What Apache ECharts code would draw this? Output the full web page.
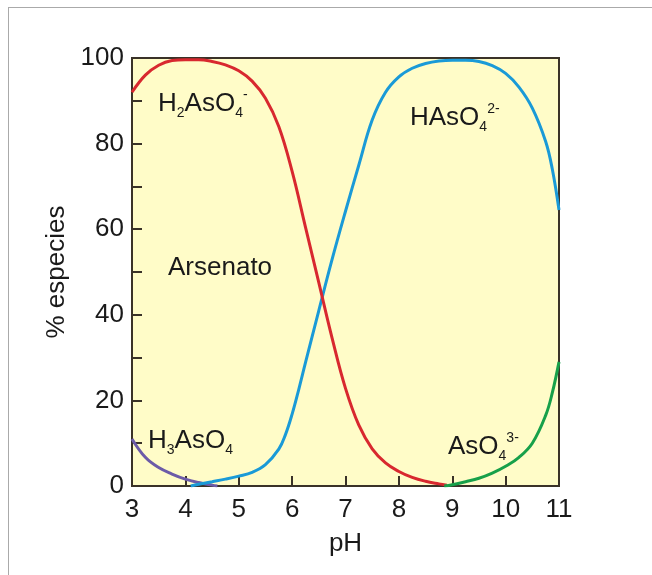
<!DOCTYPE html>
<html>
<head>
<meta charset="utf-8">
<script src="https://cdn.jsdelivr.net/npm/echarts@6/dist/echarts.min.js"></script>
<style>
  html, body { margin: 0; padding: 0; background: #fff; }
  #frame { position: absolute; left: 8px; top: 7px; right: 0; bottom: 0;
           border-top: 1px solid #aaa; border-left: 1px solid #aaa; }
  #chart { position: absolute; left: 0; top: 0; width: 652px; height: 575px; }
</style>
</head>
<body>
<div id="frame"></div>
<div id="chart"></div>
<script>
// 坐标轴刻度
const X_TICKS = [3, 4, 5, 6, 7, 8, 9, 10, 11]
const Y_TICKS = [0, 20, 40, 60, 80, 100]

// H3AsO4（紫）
const h3PH  = [3.0, 3.25, 3.5, 3.75, 4.0, 4.25, 4.5, 4.6]
const h3Pct = [11, 6.7, 4.3, 2.8, 1.6, 0.8, 0.2, 0]

// H2AsO4-（红）
const h2PH  = [3.0, 3.25, 3.5, 3.75, 4.0, 4.25, 4.5, 4.75, 5.0, 5.25, 5.5, 5.75, 6.0, 6.25, 6.5, 6.75, 7.0, 7.25, 7.5, 7.75, 8.0, 8.25, 8.5, 8.75, 8.9]
const h2Pct = [92, 96, 98.3, 99.4, 99.6, 99.6, 99.2, 98.4, 97, 94.6, 90.6, 84, 73.5, 60.5, 47.5, 34.5, 22.8, 14.2, 8.7, 5.4, 3.4, 2, 1.1, 0.5, 0.2]

// HAsO4 2-（蓝）
const hPH  = [4.1, 4.25, 4.5, 4.75, 5.0, 5.25, 5.5, 5.75, 5.875, 6.0, 6.125, 6.25, 6.5, 6.75, 7.0, 7.25, 7.5, 7.75, 8.0, 8.25, 8.5, 8.75, 9.0, 9.25, 9.5, 9.75, 10.0, 10.25, 10.5, 10.75, 10.875, 11.0]
const hPct = [0, 0.4, 1, 1.6, 2.3, 3.2, 5, 8.6, 12, 16.8, 22.6, 28.8, 41, 53, 64.2, 75, 85.5, 92, 95.6, 97.6, 98.7, 99.3, 99.5, 99.5, 99.2, 98.2, 96.4, 93.2, 88.3, 80.5, 74, 64.5]

// AsO4 3-（绿）
const aPH  = [8.85, 9.0, 9.25, 9.5, 9.75, 10.0, 10.25, 10.5, 10.75, 10.875, 11.0]
const aPct = [0, 0.3, 1, 1.8, 3, 4.6, 6.7, 10, 16.5, 21.8, 29]

const FONT = '"Liberation Sans", Arial, sans-serif'
const AXIS_COLOR = '#3a3228'

const zip = (xs, ys) => xs.map((x, i) => [x, ys[i]])

function curve(name, xs, ys, color) {
  return {
    name,
    type: 'line',
    data: zip(xs, ys),
    smooth: 0.4,
    showSymbol: false,
    silent: true,
    lineStyle: { color, width: 3 },
  }
}

// 化学式：下标 / 上标用富文本
const rich = {
  n: { fontSize: 26, fontFamily: FONT, fill: '#1a1a1a', lineHeight: 32 },
  sub: { fontSize: 14, fontFamily: FONT, fill: '#1a1a1a', lineHeight: 14, verticalAlign: 'bottom' },
  sup: { fontSize: 14, fontFamily: FONT, fill: '#1a1a1a', lineHeight: 16, verticalAlign: 'top' },
}

function label(x, y, text) {
  return {
    type: 'text',
    x, y,
    silent: true,
    style: { text, rich, align: 'left', verticalAlign: 'middle', font: '26px ' + FONT, fill: '#1a1a1a' },
  }
}

const chart = echarts.init(document.getElementById('chart'))
chart.setOption({
  animation: false,
  grid: {
    left: 132, right: 93, top: 58, bottom: 89,
    show: true,
    backgroundColor: '#fffcc8',
    borderColor: AXIS_COLOR,
    borderWidth: 2,
  },
  xAxis: {
    type: 'value',
    min: X_TICKS[0],
    max: X_TICKS[X_TICKS.length - 1],
    interval: 1,
    name: 'pH',
    nameLocation: 'middle',
    nameGap: 45,
    nameTextStyle: { fontSize: 26, fontFamily: FONT, color: '#1a1a1a' },
    axisLine: { lineStyle: { color: AXIS_COLOR, width: 2 } },
    axisTick: { inside: true, length: 10, lineStyle: { color: AXIS_COLOR, width: 2 } },
    axisLabel: { fontSize: 26, fontFamily: FONT, color: '#1a1a1a', margin: 11,
                 formatter: v => X_TICKS.includes(v) ? String(v) : '' },
    splitLine: { show: false },
  },
  yAxis: {
    type: 'value',
    min: 0,
    max: 100,
    interval: 10,
    name: '% especies',
    nameLocation: 'middle',
    nameRotate: 90,
    nameGap: 50,
    nameTextStyle: { fontSize: 26, fontFamily: FONT, color: '#1a1a1a' },
    axisLine: { show: true, lineStyle: { color: AXIS_COLOR, width: 2 } },
    axisTick: { show: true, inside: true, length: 10, lineStyle: { color: AXIS_COLOR, width: 2 } },
    axisLabel: { fontSize: 26, fontFamily: FONT, color: '#1a1a1a', margin: 8,
                 formatter: v => Y_TICKS.includes(v) ? String(v) : '' },
    splitLine: { show: false },
  },
  series: [
    curve('H3AsO4', h3PH, h3Pct, '#6c5ba8'),
    curve('HAsO4 2-', hPH, hPct, '#1a9ad7'),
    curve('H2AsO4-', h2PH, h2Pct, '#d8282f'),
    curve('AsO4 3-', aPH, aPct, '#17a04a'),
  ],
  graphic: [
    label(158, 104, '{n|H}{sub|2}{n|AsO}{sub|4}{sup|-}'),
    label(410, 118, '{n|HAsO}{sub|4}{sup|2-}'),
    label(168, 268, '{n|Arsenato}'),
    label(148, 441, '{n|H}{sub|3}{n|AsO}{sub|4}'),
    label(448, 447, '{n|AsO}{sub|4}{sup|3-}'),
  ],
})
</script>
</body>
</html>
